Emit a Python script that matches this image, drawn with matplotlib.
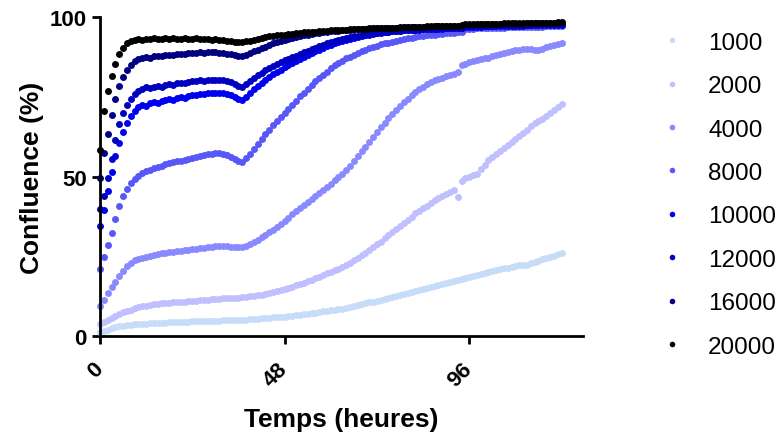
import numpy as np
import matplotlib
matplotlib.use("Agg")
import matplotlib.pyplot as plt

plt.rcParams['font.family'] = ['Liberation Sans', 'DejaVu Sans']

# time points (hourly scans, 0 -> 120 h)
hours = np.arange(0, 121)

c1000 = [1.3, 1.7, 2.1, 2.5, 2.8, 3.1, 3.3, 3.5, 3.6, 3.7,
         3.8, 3.9, 4.0, 4.1, 4.1, 4.2, 4.3, 4.3, 4.4, 4.4,
         4.5, 4.5, 4.6, 4.6, 4.7, 4.7, 4.7, 4.8, 4.8, 4.9,
         4.9, 4.9, 5.0, 5.0, 5.0, 5.1, 5.1, 5.2, 5.2, 5.3,
         5.4, 5.5, 5.6, 5.7, 5.8, 5.9, 6.0, 6.1, 6.2, 6.3,
         6.5, 6.6, 6.8, 6.9, 7.1, 7.2, 7.4, 7.6, 7.8, 8.0,
         8.1, 8.3, 8.5, 8.7, 8.9, 9.1, 9.4, 9.7, 10.0, 10.3,
         10.6, 10.9, 11.2, 11.5, 11.8, 12.1, 12.4, 12.7, 13.0, 13.3,
         13.6, 13.9, 14.3, 14.6, 14.9, 15.2, 15.5, 15.8, 16.1, 16.4,
         16.8, 17.1, 17.4, 17.7, 18.0, 18.3, 18.6, 18.9, 19.2, 19.5,
         19.8, 20.1, 20.4, 20.7, 21.0, 21.3, 21.5, 21.8, 22.0, 22.2,
         22.3, 22.5, 22.9, 23.3, 23.7, 24.1, 24.5, 24.9, 25.3, 25.7, 26.1]

c2000 = [4.0, 4.6, 5.2, 5.8, 6.4, 7.0, 7.5, 8.0, 8.4, 8.8,
         9.1, 9.4, 9.6, 9.8, 10.0, 10.1, 10.3, 10.4, 10.5, 10.6,
         10.7, 10.8, 10.9, 11.0, 11.1, 11.2, 11.3, 11.4, 11.5, 11.6,
         11.7, 11.8, 11.9, 12.0, 12.0, 12.1, 12.1, 12.2, 12.3, 12.5,
         12.7, 12.9, 13.1, 13.4, 13.6, 13.9, 14.2, 14.5, 14.8, 15.2,
         15.6, 16.0, 16.4, 16.8, 17.2, 17.7, 18.2, 18.7, 19.2, 19.7,
         20.2, 20.7, 21.2, 21.8, 22.4, 23.0, 23.8, 24.6, 25.4, 26.2,
         27.0, 27.9, 28.8, 29.7, 30.7, 31.7, 32.7, 33.6, 34.5, 35.5,
         36.5, 37.5, 38.5, 39.4, 40.2, 41.0, 41.8, 42.6, 43.3, 44.0,
         44.7, 45.3, 45.9, 43.6, 48.8, 49.5, 50.0, 50.5, 51.0, 52.3,
         53.8, 55.2, 56.3, 57.2, 58.1, 59.0, 59.9, 60.8, 61.8, 62.8,
         63.8, 64.8, 65.8, 66.8, 67.6, 68.2, 69.0, 70.0, 71.0, 72.0, 72.8]

c4000 = [9.5, 11.5, 13.5, 15.5, 17.0, 18.8, 20.5, 22.0, 23.0, 23.8,
         24.3, 24.7, 25.0, 25.3, 25.6, 25.8, 26.0, 26.2, 26.4, 26.5,
         26.7, 26.8, 27.0, 27.2, 27.3, 27.5, 27.6, 27.8, 27.9, 28.1,
         28.2, 28.3, 28.3, 28.2, 28.1, 28.0, 27.9, 28.0, 28.4, 29.0,
         29.6, 30.3, 31.0, 31.8, 32.6, 33.4, 34.3, 35.2, 36.2, 37.2,
         38.2, 39.2, 40.2, 41.1, 42.0, 43.0, 43.9, 44.8, 45.8, 46.8,
         47.8, 48.9, 50.0, 51.0, 52.2, 53.5, 55.0, 56.5, 58.0, 59.5,
         61.0, 62.5, 64.0, 65.5, 67.0, 68.5, 69.8, 71.0, 72.2, 73.4,
         74.5, 75.6, 76.6, 77.5, 78.3, 79.0, 79.6, 80.2, 80.7, 81.1,
         81.5, 81.9, 82.3, 82.7, 85.0, 85.5, 85.9, 86.2, 86.5, 86.8,
         87.1, 87.4, 87.8, 88.1, 88.5, 88.8, 89.1, 89.4, 89.7, 89.9,
         90.1, 90.2, 90.0, 89.8, 89.9, 90.2, 90.6, 90.9, 91.2, 91.5, 91.8]

c8000 = [21.0, 25.0, 28.5, 32.5, 36.8, 40.8, 44.0, 46.3, 48.0, 49.3,
         50.3, 51.2, 51.8, 52.2, 52.8, 53.1, 53.5, 53.9, 54.2, 54.5,
         54.9, 55.1, 55.4, 55.7, 56.0, 56.2, 56.5, 56.8, 57.0, 57.3,
         57.5, 57.4, 57.2, 56.8, 56.3, 55.6, 54.8, 54.6, 55.8, 57.3,
         58.8, 60.3, 61.8, 63.3, 64.8, 66.2, 67.5, 68.8, 70.0, 71.3,
         72.6, 73.9, 75.2, 76.4, 77.6, 78.8, 79.9, 81.0, 82.0, 83.0,
         84.0, 84.9, 85.7, 86.4, 87.1, 87.7, 88.3, 88.9, 89.4, 89.9,
         90.3, 90.7, 91.1, 91.5, 91.8, 92.1, 92.4, 92.7, 93.0, 93.2,
         93.4, 93.6, 93.8, 94.0, 94.2, 94.3, 94.5, 94.6, 94.8, 94.9,
         95.0, 95.1, 95.2, 95.3, 95.4, 96.2, 96.3, 96.4, 96.5, 96.5,
         96.6, 96.6, 96.7, 96.7, 96.8, 96.8, 96.9, 96.9, 96.9, 97.0,
         97.0, 97.0, 97.1, 97.1, 97.1, 97.1, 97.2, 97.2, 97.2, 97.2, 97.3]

c10000 = [34.5, 39.5, 45.5, 51.5, 56.5, 60.5, 64.0, 66.8, 69.0, 70.5,
          71.8, 72.5, 72.2, 73.0, 73.3, 73.1, 73.8, 74.0, 74.3, 74.1,
          74.7, 75.0, 74.8, 75.3, 75.5, 75.7, 75.9, 76.0, 76.2, 76.3,
          76.4, 76.3, 76.2, 76.0, 75.6, 75.0, 74.4, 74.0, 75.0, 76.2,
          77.4, 78.5, 79.5, 80.4, 81.3, 82.1, 82.9, 83.6, 84.3, 85.0,
          85.7, 86.4, 87.0, 87.6, 88.2, 88.8, 89.4, 89.9, 90.4, 90.9,
          91.4, 91.8, 92.2, 92.6, 93.0, 93.3, 93.6, 93.9, 94.2, 94.4,
          94.6, 94.8, 95.0, 95.2, 95.3, 95.5, 95.6, 95.7, 95.8, 95.9,
          96.0, 96.0, 96.1, 96.1, 96.2, 96.2, 96.3, 96.3, 96.4, 96.4,
          96.5, 96.5, 96.5, 96.6, 96.6, 97.0, 97.0, 97.1, 97.1, 97.1,
          97.2, 97.2, 97.2, 97.3, 97.3, 97.3, 97.3, 97.4, 97.4, 97.4,
          97.4, 97.5, 97.5, 97.5, 97.5, 97.6, 97.6, 97.6, 97.6, 97.7, 97.7]

c12000 = [40.0, 44.0, 49.5, 55.5, 61.5, 66.5, 70.0, 72.5, 74.5, 76.0,
          77.0, 77.6, 78.0, 77.7, 78.3, 78.5, 78.2, 78.8, 79.0, 78.8,
          79.3, 79.5, 79.3, 79.7, 79.9, 80.0, 80.2, 80.1, 80.3, 80.4,
          80.4, 80.3, 80.2, 80.0, 79.6, 79.1, 78.6, 78.3, 79.0, 80.0,
          80.9, 81.8, 82.6, 83.4, 84.1, 84.8, 85.4, 86.0, 86.5, 87.0,
          87.5, 88.0, 88.5, 89.0, 89.5, 90.0, 90.5, 91.0, 91.4, 91.8,
          92.2, 92.5, 92.8, 93.1, 93.4, 93.7, 94.0, 94.2, 94.4, 94.6,
          94.8, 95.0, 95.1, 95.3, 95.4, 95.5, 95.6, 95.7, 95.8, 95.9,
          96.0, 96.0, 96.1, 96.2, 96.2, 96.3, 96.4, 96.4, 96.5, 96.5,
          96.6, 96.6, 96.7, 96.7, 96.8, 97.2, 97.2, 97.3, 97.3, 97.3,
          97.4, 97.4, 97.4, 97.5, 97.5, 97.5, 97.6, 97.6, 97.6, 97.7,
          97.7, 97.7, 97.7, 97.8, 97.8, 97.8, 97.8, 97.9, 97.9, 97.9, 98.0]

c16000 = [49.5, 57.5, 63.5, 69.5, 74.5, 78.5, 81.2, 83.5, 85.0, 86.2,
          87.0, 87.3, 87.6, 87.4, 87.8, 88.0, 87.8, 88.2, 88.3, 88.1,
          88.5, 88.6, 88.4, 88.7, 88.8, 88.9, 89.0, 88.9, 89.0, 89.1,
          89.0, 88.9, 88.8, 88.6, 88.4, 88.2, 88.0, 87.9, 88.3, 88.8,
          89.3, 89.8, 90.3, 90.8, 91.3, 91.8, 92.2, 92.6, 93.0, 93.3,
          93.6, 93.9, 94.1, 94.4, 94.6, 94.8, 95.0, 95.2, 95.3, 95.5,
          95.6, 95.7, 95.8, 95.9, 96.0, 96.1, 96.2, 96.2, 96.3, 96.4,
          96.4, 96.5, 96.5, 96.6, 96.6, 96.7, 96.7, 96.8, 96.8, 96.9,
          96.9, 97.0, 97.0, 97.0, 97.1, 97.1, 97.1, 97.2, 97.2, 97.2,
          97.3, 97.3, 97.3, 97.4, 97.4, 97.7, 97.7, 97.7, 97.8, 97.8,
          97.8, 97.8, 97.9, 97.9, 97.9, 97.9, 98.0, 98.0, 98.0, 98.0,
          98.0, 98.1, 98.1, 98.1, 98.1, 98.1, 98.2, 98.2, 98.2, 98.2, 98.2]

c20000 = [58.5, 70.5, 77.0, 81.5, 85.5, 88.5, 90.5, 91.8, 92.6, 93.0,
          93.2, 93.0, 93.3, 93.1, 93.4, 93.2, 93.3, 93.5, 93.2, 93.4,
          93.3, 93.2, 93.5, 93.3, 93.2, 93.4, 93.1, 93.3, 93.2, 93.0,
          93.1, 92.9, 92.8, 92.7, 92.5, 92.4, 92.3, 92.3, 92.5, 92.7,
          93.0, 93.3, 93.6, 93.8, 94.0, 94.2, 94.4, 94.5, 94.6, 94.8,
          94.9, 95.0, 95.1, 95.3, 95.4, 95.5, 95.5, 95.6, 95.7, 95.8,
          95.9, 95.9, 96.0, 96.1, 96.1, 96.2, 96.3, 96.3, 96.4, 96.4,
          96.5, 96.5, 96.6, 96.6, 96.7, 96.7, 96.8, 96.8, 96.9, 96.9,
          97.0, 97.0, 97.0, 97.1, 97.1, 97.2, 97.2, 97.2, 97.3, 97.3,
          97.3, 97.4, 97.4, 97.4, 97.5, 97.8, 97.8, 97.8, 97.9, 97.9,
          97.9, 98.0, 98.0, 98.0, 98.0, 98.1, 98.1, 98.1, 98.1, 98.2,
          98.2, 98.2, 98.2, 98.2, 98.3, 98.3, 98.3, 98.3, 98.3, 98.4, 98.4]

labels = ['1000', '2000', '4000', '8000', '10000', '12000', '16000', '20000']
series = [c1000, c2000, c4000, c8000, c10000, c12000, c16000, c20000]
colors = ['#c6dcf8', '#c0c0ff', '#8a8aff', '#5858f8', '#0000f0', '#0000c0', '#000080', '#000000']

fig = plt.figure(figsize=(7.79, 4.35), dpi=100)
ax = fig.add_axes([0.1284, 0.2246, 0.6196, 0.7333])

for vals, col, lab in zip(series, colors, labels):
    ax.plot(hours, vals, 'o', color=col, markersize=5.0, markeredgewidth=0,
            label=lab, clip_on=False)

ax.set_xlim(0, 125.5)
ax.set_ylim(0, 100)
ax.set_xticks([0, 48, 96])
ax.set_yticks([0, 50, 100])

for s in ['top', 'right']:
    ax.spines[s].set_visible(False)
for s in ['left', 'bottom']:
    ax.spines[s].set_linewidth(2)
ax.tick_params(width=2, length=6, labelsize=16)
for lbl in ax.get_yticklabels():
    lbl.set_fontweight('bold')
for lbl in ax.get_xticklabels():
    lbl.set_fontweight('bold')
    lbl.set_rotation(45)
    lbl.set_ha('right')
    lbl.set_va('center')
    lbl.set_rotation_mode('anchor')
ax.tick_params(axis='x', pad=15)

ax.set_xlabel('Temps (heures)', fontsize=19, fontweight='bold', labelpad=12)
ax.set_ylabel('Confluence (%)', fontsize=19, fontweight='bold', labelpad=4)

fig.legend(loc='upper left', bbox_to_anchor=(0.8247, 0.975), frameon=False,
           fontsize=17.5, labelspacing=0.88, handlelength=0.6, handletextpad=1.2,
           markerscale=0.8)

fig.savefig('out.png', dpi=100)
